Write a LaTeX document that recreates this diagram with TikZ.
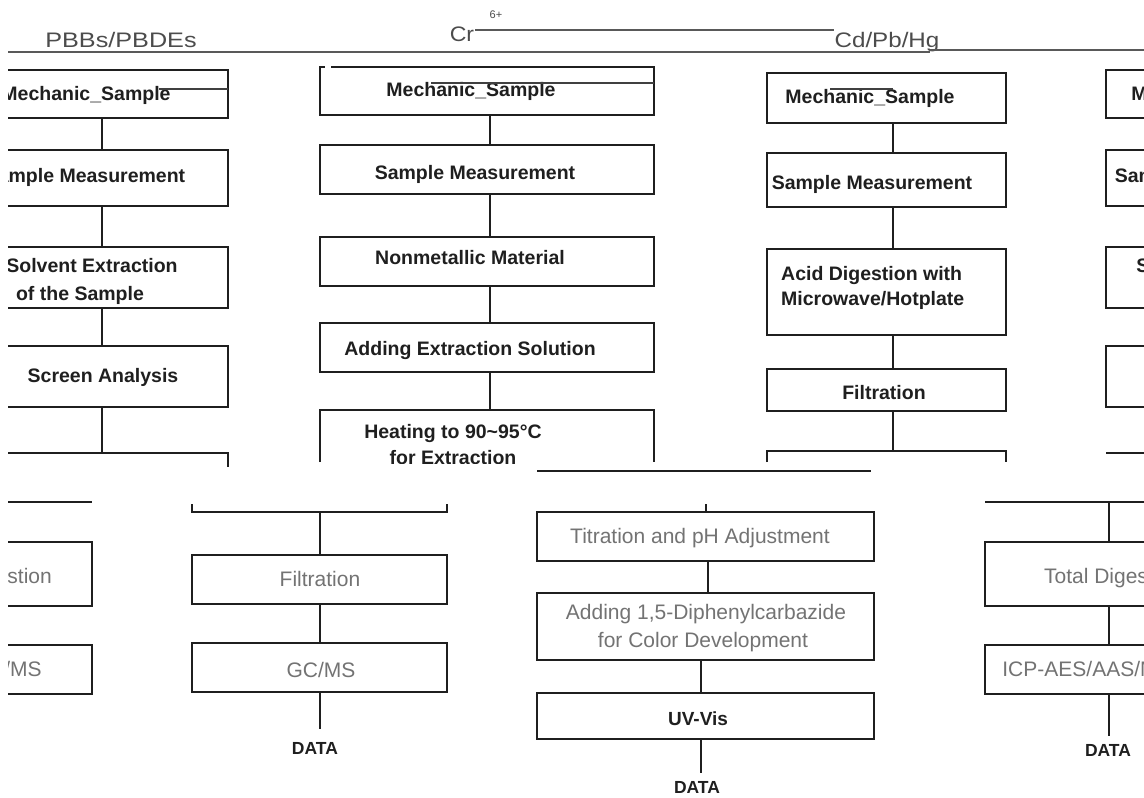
\documentclass[tikz,border=0pt]{standalone}
\usepackage{fontspec}
\setmainfont{Liberation Sans}
\tikzset{
  box/.style={draw=black!88, line width=1.6pt, inner sep=0pt},
  ln/.style={draw=black!88, line width=1.6pt},
  hl/.style={draw=black!65, line width=1.3pt},
  st/.style={draw=black!75, line width=1.1pt},
  tt/.style={inner sep=0pt, text=black!88, font=\bfseries\fontsize{19.5}{24}\selectfont, text height=14pt, text depth=0pt},
  lt/.style={inner sep=0pt, text=black!55, font=\fontsize{21}{25}\selectfont, text height=15pt, text depth=0pt},
  dt/.style={inner sep=0pt, text=black!88, font=\bfseries\fontsize{17.5}{21}\selectfont, text height=12.6pt, text depth=0pt},
  hd/.style={inner sep=0pt, text=black!70, font=\fontsize{21}{25}\selectfont},
}
% column of PBBs/PBDEs (drawn twice: it wraps round the right edge)
\newcommand\pbbcol[2]{%
\begin{scope}[xshift=#2]
 \node[box, minimum width=252pt, minimum height=48pt] (#1m) at (102,94) {};
 \node[tt] (#1mt) at (86,93) {Mechanic\_Sample};
 \draw[st] (159,89) -- (228,89);
 \node[box, minimum width=252pt, minimum height=56pt] (#1s) at (102,178) {};
 \node[tt] (#1st) at (85,175) {Sample Measurement};
 \node[box, minimum width=252pt, minimum height=61pt] (#1e) at (102,277.5) {};
 \node[tt] (#1et) at (92,265) {Solvent Extraction};
 \node[tt] (#1eu) at (80,293) {of the Sample};
 \node[box, minimum width=252pt, minimum height=61pt] (#1a) at (102,376.5) {};
 \node[tt] (#1at) at (103,375) {Screen Analysis};
 \coordinate (#1n) at (102,453);
 \draw[ln] (-24,453) -- (228,453) -- (228,467);
 \draw[ln] (#1m) -- (#1s);
 \draw[ln] (#1s) -- (#1e);
 \draw[ln] (#1e) -- (#1a);
 \draw[ln] (#1a) -- (#1n);
\end{scope}}
% lower part of the Cd/Pb/Hg column (drawn twice: it wraps round)
\newcommand\cdcol[2]{%
\begin{scope}[xshift=#2]
 \coordinate (#1x) at (1109,0);
 \coordinate (#1h) at (1109,502);
 \draw[ln] (985,502) -- (1222,502);
 \node[box, minimum width=237pt, minimum height=64pt] (#1t) at (1103.5,574) {};
 \node[lt] (#1tt) at (1113,576) {Total Digestion};
 \node[box, minimum width=237pt, minimum height=49pt] (#1i) at (1103.5,669.5) {};
 \node[lt] (#1it) at (1087,669) {ICP-AES/AAS/MS};
 \node[dt] (#1d) at (1108,750) {DATA};
 \draw[ln] (#1h) -- (#1t.north -| #1x);
 \draw[ln] (#1t.south -| #1x) -- (#1i.north -| #1x);
 \draw[ln, shorten >=8pt] (#1i.south -| #1x) -- (#1d.north -| #1x);
\end{scope}}
\begin{document}
\begin{tikzpicture}[x=1pt,y=-1pt]
\useasboundingbox (0,0) rectangle (1144,798);
\fill[white] (0,0) rectangle (1144,798);
% headers
\node[hd] (hP) at (121,40) {\scalebox{1.2}[1]{PBBs/PBDEs}};
\node[hd] (hC) at (462,34) {\scalebox{1.1}[1]{Cr}};
\node[hd, font=\fontsize{11}{13}\selectfont] (hS) at (496,15) {6+};
\node[hd] (hH) at (887,42) {\scalebox{1.15}[1]{Cd/Pb/Hg}};
\begin{scope}
\clip (8,0) rectangle (1144,798);
\draw[hl] (8,52) -- (930,52);
\draw[hl] (930,50) -- (1144,50);
\draw[hl] (475,30) -- (834,30);
% ---- PBBs/PBDEs (left, and wrapped copy at right)
\pbbcol{p}{0pt}
\pbbcol{q}{1130pt}
% ---- Cr column, upper part
\coordinate (x2) at (490,0);
\node[box, minimum width=334pt, minimum height=48pt] (c2m) at (487,91) {};
\draw[white, line width=2.5pt] (325,67) -- (331,67);
\node[tt] (c2mt) at (471,89) {Mechanic\_Sample};
\draw[st] (431,83) -- (654,83);
\node[box, minimum width=334pt, minimum height=49pt] (c2s) at (487,169.5) {};
\node[tt] (c2st) at (475,172) {Sample Measurement};
\node[box, minimum width=334pt, minimum height=49pt] (c2n) at (487,261.5) {};
\node[tt] (c2nt) at (470,257) {Nonmetallic Material};
\node[box, minimum width=334pt, minimum height=49pt] (c2a) at (487,347.5) {};
\node[tt] (c2at) at (470,348) {Adding Extraction Solution};
\coordinate (c2h) at (490,410);
\draw[ln] (320,462) -- (320,410) -- (654,410) -- (654,462);
\node[tt] (c2ht) at (453,431) {Heating to 90\textasciitilde95°C};
\begin{scope}
 \clip (300,400) rectangle (700,463);
 \node[tt] (c2hu) at (453,457) {for Extraction};
\end{scope}
\draw[ln] (c2m.south -| x2) -- (c2s.north -| x2);
\draw[ln] (c2s.south -| x2) -- (c2n.north -| x2);
\draw[ln] (c2n.south -| x2) -- (c2a.north -| x2);
\draw[ln] (c2a.south -| x2) -- (c2h);
% ---- Cd/Pb/Hg column, upper part
\coordinate (x3) at (893,0);
\node[box, minimum width=239pt, minimum height=50pt] (c3m) at (886.5,98) {};
\node[tt] (c3mt) at (870,96) {Mechanic\_Sample};
\draw[st] (830,89) -- (893,89);
\node[box, minimum width=239pt, minimum height=54pt] (c3s) at (886.5,180) {};
\node[tt] (c3st) at (872,182) {Sample Measurement};
\node[box, minimum width=239pt, minimum height=86pt] (c3a) at (886.5,292) {};
\node[tt, anchor=west] (c3at) at (781,273) {Acid Digestion with};
\node[tt, anchor=west] (c3au) at (781,298) {Microwave/Hotplate};
\node[box, minimum width=239pt, minimum height=42pt] (c3f) at (886.5,390) {};
\node[tt] (c3ft) at (884,392) {Filtration};
\coordinate (c3n) at (893,451);
\draw[ln] (767,462) -- (767,451) -- (1006,451) -- (1006,462);
\draw[ln] (c3m.south -| x3) -- (c3s.north -| x3);
\draw[ln] (c3s.south -| x3) -- (c3a.north -| x3);
\draw[ln] (c3a.south -| x3) -- (c3f.north -| x3);
\draw[ln] (c3f.south -| x3) -- (c3n);
% ---- lower part, PBBs/PBDEs
\coordinate (xB) at (320,0);
\coordinate (bBh) at (320,512);
\draw[ln] (192,504) -- (192,512) -- (447,512) -- (447,504);
\node[box, minimum width=255pt, minimum height=49pt] (bBf) at (319.5,579.5) {};
\node[lt] (bBft) at (320,579) {Filtration};
\node[box, minimum width=255pt, minimum height=49pt] (bBg) at (319.5,667.5) {};
\node[lt] (bBgt) at (321,670) {GC/MS};
\node[dt] (bBd) at (315,748) {DATA};
\draw[ln] (bBh) -- (bBf.north -| xB);
\draw[ln] (bBf.south -| xB) -- (bBg.north -| xB);
\draw[ln, shorten >=13pt] (bBg.south -| xB) -- (bBd.north -| xB);
% ---- lower part, Cr
\coordinate (xC) at (708,0);
\coordinate (xD) at (701,0);
\coordinate (bCk) at (706,504);
\draw[ln] (537,471) -- (871,471);
\node[box, minimum width=337pt, minimum height=49pt] (bCt) at (705.5,536.5) {};
\node[lt] (bCtt) at (700,536) {Titration and pH Adjustment};
\node[box, minimum width=337pt, minimum height=67pt] (bCa) at (705.5,626.5) {};
\node[lt] (bCat) at (706,612) {Adding 1,5-Diphenylcarbazide};
\node[lt] (bCau) at (703,640) {for Color Development};
\node[box, minimum width=337pt, minimum height=46pt] (bCu) at (705.5,716) {};
\node[tt, font=\bfseries\fontsize{19}{23}\selectfont] (bCut) at (698,718) {UV-Vis};
\node[dt] (bCd) at (697,787) {DATA};
\draw[ln] (bCk) -- (bCt.north -| bCk);
\draw[ln] (bCt.south -| xC) -- (bCa.north -| xC);
\draw[ln] (bCa.south -| xD) -- (bCu.north -| xD);
\draw[ln, shorten >=8pt] (bCu.south -| xD) -- (bCd.north -| xD);
% ---- lower part, Cd/Pb/Hg (right, and wrapped copy at left)
\cdcol{dD}{0pt}
\cdcol{dA}{-1130pt}
\end{scope}
\end{tikzpicture}
\end{document}
